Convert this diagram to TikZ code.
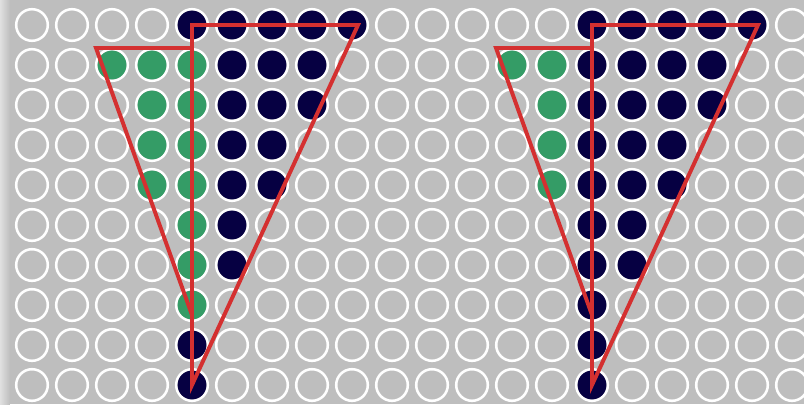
\documentclass[tikz,border=0pt]{standalone}
\definecolor{plate}{RGB}{190,190,190}
\definecolor{rim}{RGB}{224,224,224}
\definecolor{navy}{RGB}{6,0,66}
\definecolor{leaf}{RGB}{52,156,102}
\definecolor{redline}{RGB}{212,48,48}
\tikzset{
  well/.style={circle,draw=white,line width=1.8pt,minimum size=0.79cm,inner sep=0pt},
  cone/.style={draw=redline,line width=2.8pt,line join=miter},
}
\begin{document}
\begin{tikzpicture}[x=1cm,y=1cm]
\useasboundingbox (-0.8,0.625) rectangle (19.3,-9.475);
\fill[plate] (-0.8,0.625) rectangle (19.3,-9.475);
\shade[left color=rim,right color=plate] (-0.8,0.625) rectangle (-0.55,-9.475);
% grid of wells
\foreach \i in {0,...,19}
  \foreach \j in {0,...,9}
    \node[well] (w\i-\j) at (\i,-\j) {};
% left pattern
\foreach \p in {4-0,5-0,6-0,7-0,8-0,5-1,6-1,7-1,5-2,6-2,7-2,5-3,6-3,5-4,6-4,5-5,5-6,4-8,4-9}
  \fill[navy] (w\p) circle (0.36);
\foreach \p in {2-1,3-1,4-1,3-2,4-2,3-3,4-3,3-4,4-4,4-5,4-6,4-7}
  \fill[leaf] (w\p) circle (0.36);
% right pattern
\foreach \p in {14-0,15-0,16-0,17-0,18-0,14-1,15-1,16-1,17-1,14-2,15-2,16-2,17-2,14-3,15-3,16-3,14-4,15-4,16-4,14-5,15-5,14-6,15-6,14-7,14-8,14-9}
  \fill[navy] (w\p) circle (0.36);
\foreach \p in {12-1,13-1,13-2,13-3,13-4}
  \fill[leaf] (w\p) circle (0.36);
% red outlines
\coordinate (rimL) at (8.15,0);
\coordinate (neckL) at (4,-0.575);
\coordinate (lipL) at (1.6,-0.575);
\coordinate (footL) at (4,-7.25);
\draw[cone] (w4-9.center) -- (w4-0.center) -- (rimL) -- cycle;
\draw[cone] (neckL) -- (lipL) -- (footL);
\coordinate (rimR) at (18.15,0);
\coordinate (neckR) at (14,-0.575);
\coordinate (lipR) at (11.6,-0.575);
\coordinate (footR) at (14,-7.25);
\draw[cone] (w14-9.center) -- (w14-0.center) -- (rimR) -- cycle;
\draw[cone] (neckR) -- (lipR) -- (footR);
\end{tikzpicture}
\end{document}
